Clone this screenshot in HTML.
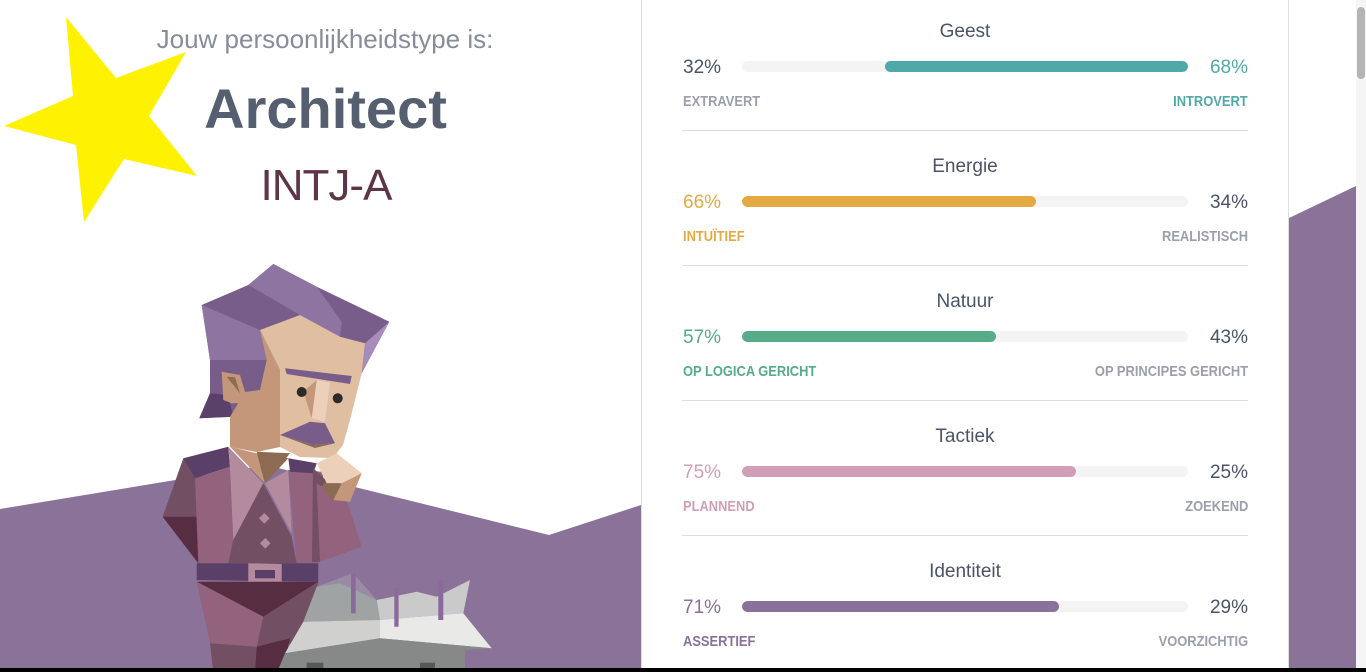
<!DOCTYPE html>
<html><head><meta charset="utf-8"><style>
*{margin:0;padding:0;box-sizing:border-box}
html,body{width:1366px;height:672px;overflow:hidden;background:#fff;font-family:"Liberation Sans",sans-serif}
.a{position:absolute;white-space:nowrap}
.t{font-size:19px;line-height:19px;color:#4b5467;width:566px;text-align:center;left:682px}
.p{font-size:19px;line-height:19px;color:#4b5467}
.l{font-size:15px;line-height:15px;color:#9a9fab;font-weight:bold;transform:scaleX(0.86)}
.ll{transform-origin:0 50%}
.lr{transform-origin:100% 50%}
.bar{position:absolute;left:742px;width:446px;height:11px;border-radius:6px;background:#f4f4f4;overflow:hidden}
.bar i{position:absolute;top:0;height:11px;border-radius:6px}
.sep{position:absolute;left:682px;width:566px;height:1px;background:#dedede}
</style></head><body>
<svg class="a" style="left:0;top:0" width="1366" height="672" viewBox="0 0 1366 672">
<polygon points="0,509 266,465 549,535 641,505 641,672 0,672" fill="#8b7299"/>
<polygon points="1289,218 1356,186 1356,672 1289,672" fill="#8b7299"/>
<rect x="641" y="0" width="1" height="672" fill="#dedede"/>
<rect x="642" y="0" width="646" height="672" fill="#fff"/>
<rect x="1288" y="0" width="1" height="672" fill="#dedede"/>
<rect x="1356" y="0" width="10" height="672" fill="#f5f5f5"/>
<rect x="1357" y="7" width="8" height="72" rx="4" fill="#b5b5b5"/>
<!-- star -->
<polygon points="66,17 116,78 186,52 149,116 197,176 124,159 84,222 76,145 4,126 73,96" fill="#fff200"/>
<!-- hair -->
<polygon points="201.7,305 248.3,285 273.3,264 316.7,286.7 389.3,321.7 361.7,373.3 260,400 233.3,416.7 199.3,418.3 210,393.3 210,360" fill="#785d8a"/>
<polygon points="248.3,285 273.3,264 316.7,286.7 341.7,321.7 340,336.7 300,315" fill="#8e74a0"/>
<polygon points="201.7,305 260,330 266.7,360 210,360" fill="#8e74a0"/>
<polygon points="389.3,321.7 361.7,373.3 365,343.3" fill="#a68bbb"/>
<polygon points="210,393.3 199.3,418.3 233.3,416.7 228,395" fill="#5a4169"/>
<!-- face -->
<polygon points="260,330 300,315 340,336.7 365,343.3 361.7,373.3 350,420 343,445 333,458 300,457 280,447 280,370" fill="#e0bea2"/>
<polygon points="260,330 280,370 280,447 256.7,452 230,447 230,416.7 245,392 260,390 266.7,360" fill="#c4977a"/>
<polygon points="221.7,371.7 240,375 245,391.7 243.3,403.3 231.7,403.3 223.3,400" fill="#c4977a"/>
<polygon points="226.7,376.7 235,377.3 240,393.3" fill="#8d6a52"/>
<polygon points="285,368.3 351.7,376 350,384 286.7,374" fill="#785d8a"/>
<polygon points="316.7,380 330,382.7 325,421.7 311.7,418" fill="#ecd0b9"/>
<polygon points="303.3,391.7 316.7,380 311.7,418" fill="#c4977a"/>
<circle cx="301.7" cy="392" r="5" fill="#2a2a2a"/>
<circle cx="337.7" cy="398.3" r="5" fill="#2a2a2a"/>
<polygon points="280,435 310,421.7 325,423.3 335,443.3 313.3,445" fill="#785d8a"/>
<polygon points="280,435 313.3,445 335,443.3 315,448" fill="#8d6a52"/>
<polygon points="256.7,451.7 290,453.3 270,478.3" fill="#8d6a52"/>
<!-- jacket -->
<polygon points="183.3,458.3 162.7,516.7 198.3,563.3 203.3,476.7" fill="#734f63"/>
<polygon points="162.7,516.7 200,516.7 198.3,563.3" fill="#562d41"/>
<polygon points="195,478.3 230,466.7 233.3,540 228.3,563.3 198.3,563.3" fill="#93627d"/>
<polygon points="183.3,458.3 228.3,446.7 230,466.7 195,478.3" fill="#5a4068"/>
<polygon points="230,446.7 256.7,453.3 265,483.3" fill="#c4977a"/>
<polygon points="256.7,453.3 288.3,458.3 265,483.3" fill="#8d6a52"/>
<polygon points="228.3,446.7 263.3,483.3 233.3,540 230,466.7" fill="#b48a9f"/>
<polygon points="288.3,470 323.3,471.7 318.3,563.3 296.7,563.3" fill="#93627d"/>
<polygon points="265,483.3 288.3,470 291.7,533.3" fill="#b48a9f"/>
<polygon points="263.3,483.3 291.7,536.7 296.7,563.3 228.3,563.3 233.3,540" fill="#734f63"/>
<polygon points="264.3,513 269.6,518.3 264.3,523.6 259,518.3" fill="#b48a9f"/>
<polygon points="265.3,538 270.6,543.3 265.3,548.6 260,543.3" fill="#b48a9f"/>
<polygon points="288.3,458.3 316.7,463.3 313.3,473.3 290,471.7" fill="#5a4068"/>
<polygon points="313,468 326,480 320,561.7 312,562" fill="#734f63"/>
<polygon points="316.7,483.3 346.7,500 361.7,546.7 320,561.7" fill="#93627d"/>
<!-- hand -->
<polygon points="316.7,463.3 336.7,453.3 361.7,473.3 341.7,483.3 326.7,483.3" fill="#ecd0b9"/>
<polygon points="341.7,483.3 361.7,473.3 350,501.7 333.3,500" fill="#c4977a"/>
<polygon points="323,483.3 341.7,483.3 333.3,500 323,490" fill="#8d6a52"/>
<!-- belt & pants -->
<polygon points="196.7,563.3 318.3,563.3 318.3,581.7 196.7,580" fill="#5a4068"/>
<polygon points="248.3,563.3 281.7,564 281.7,584 248.3,583.3" fill="#b48a9f"/>
<rect x="255" y="570" width="20" height="8.3" fill="#5a4068"/>
<polygon points="196.7,581.7 318.3,581.7 263.3,616.7" fill="#562d41"/>
<polygon points="196.7,581.7 263.3,616.7 256.7,646.7 210,643.3" fill="#93627d"/>
<polygon points="210,643.3 256.7,646.7 255,670 213,670" fill="#734f63"/>
<polygon points="263.3,616.7 318.3,581.7 303.3,643.3 256.7,646.7" fill="#734f63"/>
<polygon points="256.7,646.7 290,638.3 283,670 255,670" fill="#562d41"/>
<!-- table -->
<polygon points="316.7,586.7 353,573 376.7,600" fill="#9a8aa6"/>
<polygon points="316.7,586.7 340,583.3 376.7,600 380,620 303.3,621.7" fill="#a0a3a3"/>
<polygon points="376.7,600 416.7,591.7 436.7,596.7 470,580 463.3,613.3 380,620" fill="#c9cac9"/>
<polygon points="285,653.3 303.3,621.7 380,620 380,638.3" fill="#d0d1cf"/>
<polygon points="380,620 463.3,613.3 491.7,648.3 380,638.3" fill="#e9eae8"/>
<polygon points="285,653.3 380,638.3 491.7,648.3 465,650 465,670 278,670" fill="#878988"/>
<rect x="306.7" y="662.7" width="16.6" height="8" fill="#555857"/>
<rect x="420" y="662.7" width="15" height="8" fill="#555857"/>
<rect x="351" y="573.3" width="4.7" height="40" fill="#8a6a9a"/>
<rect x="394.3" y="587.7" width="4.3" height="39" fill="#8a6a9a"/>
<rect x="438.3" y="580" width="5" height="40" fill="#8a6a9a"/>
<rect x="0" y="668" width="1366" height="4" fill="#000"/>
</svg>

<div class="a" style="left:0;width:650px;text-align:center;top:26px;font-size:26px;line-height:26px;color:#868c9a">Jouw persoonlijkheidstype is:</div>
<div class="a" style="left:0;width:651px;text-align:center;top:81px;font-size:56px;line-height:56px;font-weight:bold;color:#565f70">Architect</div>
<div class="a" style="left:0;width:652px;text-align:center;top:164px;font-size:44px;line-height:44px;letter-spacing:-1px;color:#5e3448">INTJ-A</div>

<!-- Geest -->
<div class="a t" style="top:22px">Geest</div>
<div class="a p" style="left:683px;top:58px">32%</div>
<div class="bar" style="top:61px"><i style="left:143px;width:303px;background:#51a8a9"></i></div>
<div class="a p" style="right:118px;top:58px;color:#51a8a9">68%</div>
<div class="a l ll" style="left:683px;top:94px">EXTRAVERT</div>
<div class="a l lr" style="right:118px;top:94px;color:#51a8a9">INTROVERT</div>
<div class="sep" style="top:130px"></div>

<!-- Energie -->
<div class="a t" style="top:157px">Energie</div>
<div class="a p" style="left:683px;top:193px;color:#e4a942">66%</div>
<div class="bar" style="top:196px"><i style="left:0;width:294px;background:#e4a942"></i></div>
<div class="a p" style="right:118px;top:193px">34%</div>
<div class="a l ll" style="left:683px;top:229px;color:#e4a942">INTUÏTIEF</div>
<div class="a l lr" style="right:118px;top:229px">REALISTISCH</div>
<div class="sep" style="top:265px"></div>

<!-- Natuur -->
<div class="a t" style="top:292px">Natuur</div>
<div class="a p" style="left:683px;top:328px;color:#56ab8a">57%</div>
<div class="bar" style="top:331px"><i style="left:0;width:254px;background:#56ab8a"></i></div>
<div class="a p" style="right:118px;top:328px">43%</div>
<div class="a l ll" style="left:683px;top:364px;color:#56ab8a">OP LOGICA GERICHT</div>
<div class="a l lr" style="right:118px;top:364px">OP PRINCIPES GERICHT</div>
<div class="sep" style="top:400px"></div>

<!-- Tactiek -->
<div class="a t" style="top:427px">Tactiek</div>
<div class="a p" style="left:683px;top:463px;color:#d19fb5">75%</div>
<div class="bar" style="top:466px"><i style="left:0;width:334px;background:#d19fb5"></i></div>
<div class="a p" style="right:118px;top:463px">25%</div>
<div class="a l ll" style="left:683px;top:499px;color:#d19fb5">PLANNEND</div>
<div class="a l lr" style="right:118px;top:499px">ZOEKEND</div>
<div class="sep" style="top:535px"></div>

<!-- Identiteit -->
<div class="a t" style="top:562px">Identiteit</div>
<div class="a p" style="left:683px;top:598px;color:#88719a">71%</div>
<div class="bar" style="top:601px"><i style="left:0;width:317px;background:#88719a"></i></div>
<div class="a p" style="right:118px;top:598px">29%</div>
<div class="a l ll" style="left:683px;top:634px;color:#88719a">ASSERTIEF</div>
<div class="a l lr" style="right:118px;top:634px">VOORZICHTIG</div>
</body></html>
